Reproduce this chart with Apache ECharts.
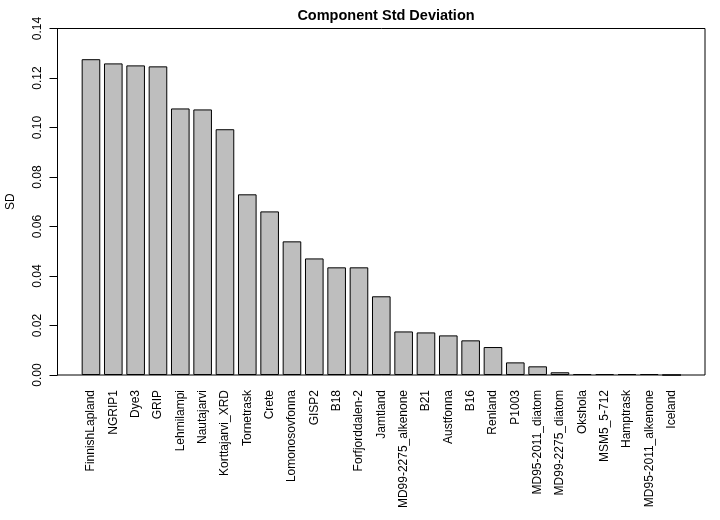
<!DOCTYPE html>
<html>
<head>
<meta charset="utf-8">
<script src="https://cdn.jsdelivr.net/npm/echarts@6/dist/echarts.min.js"></script>
<style>html,body{margin:0;padding:0;background:#fff;}#c{width:720px;height:520px;}</style>
</head>
<body>
<div id="c"></div>
<script>
var categories = ['FinnishLapland','NGRIP1','Dye3','GRIP','Lehmilampi','Nautajarvi','Korttajarvi_XRD','Tornetrask','Crete','Lomonosovfonna','GISP2','B18','Forfjorddalen-2','Jamtland','MD99-2275_alkenone','B21','Austfonna','B16','Renland','P1003','MD95-2011_diatom','MD99-2275_diatom','Okshola','MSM5_5-712','Hamptrask','MD95-2011_alkenone','Iceland'];
var sdValues = [0.1276,0.1259,0.1251,0.1247,0.1077,0.1073,0.0993,0.0730,0.0661,0.0540,0.0471,0.0435,0.0435,0.0318,0.0176,0.0172,0.0160,0.0140,0.0113,0.0051,0.0035,0.0011,0.0004,0.0004,0.0004,0.0004,0];
var yTicks = {min:0, max:0.14, interval:0.02};

var chart = echarts.init(document.getElementById('c'), null, {renderer:'canvas'});
var font = 'Liberation Sans, Arial, sans-serif';
chart.setOption({
  animation:false,
  backgroundColor:'#fff',
  title:{text:'Component Std Deviation', left:381, top:3, textAlign:'center',
    textStyle:{fontFamily:font, fontWeight:'bold', fontSize:14.5, color:'#000'}},
  grid:[
    {left:57.5, right:15, top:28.5, bottom:145, show:true, borderColor:'#000', borderWidth:1, backgroundColor:'transparent', containLabel:false, outerBoundsMode:'none'},
    {left:79.8, right:37.2, top:28.5, bottom:145, containLabel:false, outerBoundsMode:'none'}
  ],
  xAxis:[
    {gridIndex:0, type:'value', show:false},
    {gridIndex:1, type:'category', data:categories,
      axisLine:{show:false}, axisTick:{show:false},
      axisLabel:{rotate:90, interval:0, margin:15, fontFamily:font, fontSize:12, color:'#000'}}
  ],
  yAxis:[
    {gridIndex:0, type:'value', show:false},
    {gridIndex:1, type:'value', min:yTicks.min, max:yTicks.max, interval:yTicks.interval,
      offset:22.3,
      name:'SD', nameLocation:'middle', nameGap:41, nameRotate:90,
      nameTextStyle:{fontFamily:font, fontSize:12, color:'#000'},
      axisLine:{show:true, lineStyle:{color:'#000', width:1}},
      axisTick:{show:true, length:8, lineStyle:{color:'#000'}},
      splitLine:{show:false},
      axisLabel:{rotate:90, margin:14, fontFamily:font, fontSize:12, color:'#000',
        formatter:function(v){return v.toFixed(2);}}}
  ],
  series:[{
    type:'bar', xAxisIndex:1, yAxisIndex:1, data:sdValues,
    barCategoryGap:'16.67%',
    itemStyle:{color:'#bebebe', borderColor:'#000', borderWidth:1}
  }]
});
</script>
</body>
</html>
